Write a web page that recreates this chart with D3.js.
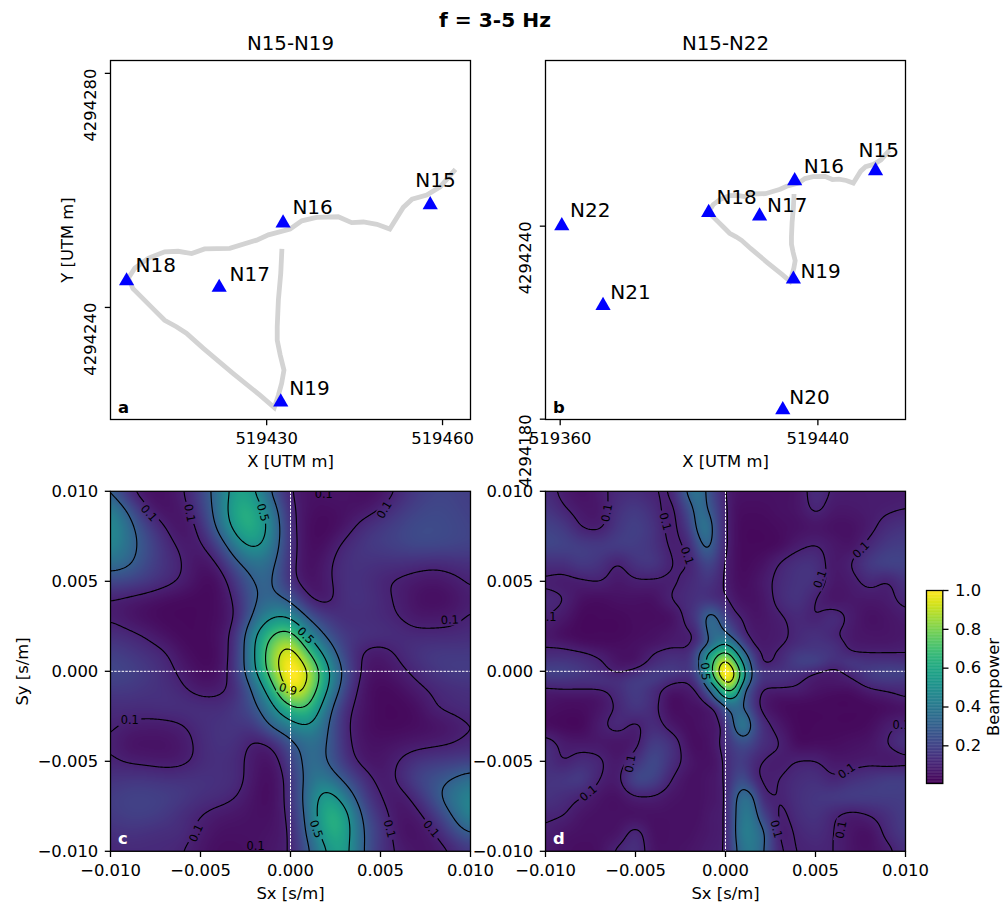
<!DOCTYPE html>
<html>
<head>
<meta charset="utf-8">
<script src="https://cdn.jsdelivr.net/npm/d3@7"></script>
<style>
body { margin: 0; background: #fff; }
svg { display: block; }
text { font-family: "DejaVu Sans", sans-serif; fill: #000; }
</style>
</head>
<body>
<div id="chart"></div>
<script>
var stations = ["N15", "N16", "N17", "N18", "N19", "N20", "N21", "N22"];
var stationX = [519457.9, 519432.8, 519421.9, 519406.1, 519432.4, 519429.1, 519373.3, 519360.5];
var stationY = [4294257.9, 4294254.8, 4294243.8, 4294244.9, 4294224.2, 4294183.6, 4294216, 4294240.8];

// grey cable line
var cableX = [519432.6, 519432.4, 519432.0, 519431.8, 519431.8, 519432.3, 519432.95, 519432.55, 519432.0, 519431.3, 519428.85, 519424.3, 519419.2, 519416.3, 519414.6, 519412.6, 519410.9, 519408.9, 519407.2, 519406.4, 519407.5, 519409.8, 519412.6, 519414.9, 519417.2, 519419.4, 519423.7, 519428.3, 519430.3, 519434, 519436, 519438.5, 519442.2, 519444.5, 519446.5, 519448.8, 519451, 519453.3, 519454.8, 519457.3, 519459.6, 519462.2];
var cableY = [4294250.0, 4294245.8, 4294241.3, 4294236.7, 4294234.4, 4294231.9, 4294229.3, 4294227.0, 4294225, 4294222.9, 4294225, 4294228.7, 4294233, 4294235.6, 4294236.7, 4294237.8, 4294239.5, 4294241.5, 4294243.2, 4294245, 4294246.7, 4294248.4, 4294249.5, 4294249.6, 4294249.2, 4294250, 4294250.1, 4294251.5, 4294252.4, 4294253.4, 4294254.8, 4294255.4, 4294255.5, 4294254.5, 4294254.6, 4294254.2, 4294253.4, 4294257.1, 4294258.5, 4294259.2, 4294260.6, 4294263.6];

var contourLevels = [0.1, 0.3, 0.5, 0.7, 0.9];
var sTicks = [-0.01, -0.005, 0, 0.005, 0.01];
var barTicks = [0.2, 0.4, 0.6, 0.8, 1.0];

// slowness axes of the two read-off grids (d is finer round the narrow peak)
var axisC = [-0.01, -0.009, -0.008, -0.007, -0.006, -0.005, -0.004, -0.003, -0.002, -0.001, 0, 0.001, 0.002, 0.003, 0.004, 0.005, 0.006, 0.007, 0.008, 0.009, 0.01];
var axisD = [-0.01, -0.009, -0.008, -0.007, -0.006, -0.005, -0.004, -0.003, -0.002, -0.0015, -0.001, -0.0005, 0, 0.0005, 0.001, 0.0015, 0.002, 0.003, 0.004, 0.005, 0.006, 0.007, 0.008, 0.009, 0.01];

// beampower, rows run from Sy=+0.010 down to Sy=-0.010
var powerC = [
[.30,.11,.05,.05,.09,.20,.37,.56,.50,.26,.10,.05,.06,.06,.04,.05,.11,.17,.20,.20,.18],
[.44,.27,.10,.05,.07,.17,.37,.60,.59,.37,.12,.05,.04,.05,.06,.10,.16,.20,.22,.21,.19],
[.49,.35,.20,.10,.05,.12,.33,.56,.61,.42,.13,.04,.03,.06,.13,.17,.20,.23,.23,.22,.20],
[.47,.35,.24,.14,.08,.08,.20,.42,.53,.39,.14,.04,.05,.12,.16,.18,.20,.22,.22,.21,.20],
[.36,.32,.22,.15,.10,.05,.10,.27,.37,.33,.13,.04,.08,.14,.15,.14,.14,.13,.12,.13,.14],
[.22,.20,.17,.13,.09,.04,.04,.17,.31,.31,.13,.05,.08,.14,.14,.11,.09,.07,.06,.08,.11],
[.095,.08,.06,.04,.03,.03,.04,.12,.29,.33,.27,.10,.07,.14,.15,.12,.09,.05,.04,.05,.09],
[.09,.06,.04,.03,.03,.03,.04,.10,.33,.49,.48,.27,.17,.13,.13,.12,.10,.07,.07,.08,.11],
[.14,.12,.09,.05,.03,.03,.05,.15,.48,.69,.76,.47,.27,.17,.15,.14,.13,.12,.12,.12,.13],
[.19,.17,.14,.11,.05,.03,.04,.16,.49,.80,.95,.70,.42,.20,.09,.07,.11,.15,.17,.17,.17],
[.22,.20,.17,.13,.08,.04,.05,.17,.47,.78,1.0,.88,.55,.26,.08,.05,.08,.12,.16,.18,.18],
[.17,.17,.15,.14,.11,.07,.08,.13,.33,.62,.96,.82,.51,.21,.06,.03,.04,.08,.11,.13,.14],
[.13,.13,.13,.14,.14,.14,.13,.17,.26,.45,.66,.68,.38,.14,.06,.03,.03,.04,.10,.12,.13],
[.11,.09,.08,.08,.095,.13,.15,.16,.17,.33,.43,.50,.32,.12,.05,.03,.03,.04,.05,.07,.10],
[.10,.05,.05,.05,.07,.12,.15,.14,.08,.11,.26,.36,.31,.13,.06,.05,.06,.07,.08,.095,.12],
[.11,.09,.08,.07,.08,.12,.14,.12,.07,.05,.19,.36,.30,.16,.07,.06,.10,.15,.17,.18,.19],
[.15,.16,.16,.15,.15,.15,.14,.13,.06,.04,.14,.36,.40,.26,.15,.07,.11,.20,.25,.30,.37],
[.18,.20,.20,.19,.17,.14,.13,.10,.05,.04,.14,.38,.57,.42,.20,.10,.06,.13,.25,.38,.45],
[.17,.19,.19,.17,.13,.10,.07,.06,.05,.05,.12,.36,.62,.57,.27,.14,.06,.07,.16,.30,.46],
[.14,.15,.14,.13,.13,.08,.05,.05,.05,.06,.10,.33,.59,.58,.30,.17,.06,.05,.09,.20,.30],
[.11,.12,.12,.12,.10,.06,.04,.04,.05,.07,.10,.27,.49,.56,.30,.15,.09,.06,.06,.10,.16]
];

var powerD = [
[.13,.08,.05,.08,.12,.13,.105,.11,.33,.38,.27,.17,.10,.06,.05,.05,.05,.05,.06,.13,.09,.08,.08,.08,.08],
[.16,.11,.07,.07,.14,.17,.13,.08,.24,.36,.30,.20,.11,.05,.04,.04,.04,.05,.06,.11,.07,.07,.08,.09,.10],
[.20,.17,.10,.09,.16,.19,.15,.08,.18,.34,.38,.22,.11,.05,.03,.03,.03,.04,.05,.06,.05,.05,.08,.13,.15],
[.21,.20,.18,.17,.18,.18,.15,.09,.12,.25,.33,.22,.11,.05,.03,.03,.03,.04,.08,.10,.07,.06,.12,.17,.18],
[.14,.14,.17,.15,.10,.15,.16,.10,.10,.16,.22,.17,.09,.05,.03,.04,.05,.10,.14,.14,.07,.10,.17,.20,.20],
[.09,.08,.09,.10,.07,.09,.09,.09,.12,.14,.16,.13,.09,.05,.04,.05,.07,.12,.15,.14,.07,.08,.12,.10,.15],
[.12,.10,.05,.04,.05,.05,.05,.10,.13,.15,.15,.13,.11,.07,.05,.05,.06,.12,.15,.10,.06,.07,.07,.08,.12],
[.10,.07,.03,.03,.03,.04,.04,.05,.13,.19,.33,.31,.19,.12,.09,.06,.06,.09,.12,.10,.13,.08,.05,.06,.08],
[.07,.04,.03,.03,.03,.04,.05,.07,.09,.13,.31,.35,.33,.22,.12,.08,.07,.08,.12,.14,.11,.07,.06,.06,.07],
[.09,.08,.05,.04,.04,.05,.06,.08,.09,.16,.28,.42,.50,.38,.21,.10,.07,.09,.13,.15,.14,.08,.07,.07,.08],
[.12,.12,.11,.08,.05,.05,.10,.13,.13,.27,.49,.62,.72,.55,.35,.18,.09,.11,.17,.17,.15,.105,.10,.10,.10],
[.16,.16,.14,.11,.06,.06,.12,.15,.15,.28,.53,.75,.92,.72,.45,.25,.09,.12,.19,.20,.14,.17,.15,.15,.14],
[.20,.20,.17,.13,.09,.12,.17,.18,.16,.26,.52,.83,1.0,.88,.55,.27,.16,.15,.15,.11,.08,.13,.18,.20,.20],
[.15,.15,.14,.15,.14,.18,.18,.12,.11,.20,.42,.70,.93,.85,.50,.26,.15,.14,.11,.07,.07,.09,.15,.17,.16],
[.09,.10,.10,.10,.13,.18,.13,.07,.08,.12,.28,.45,.72,.69,.33,.20,.10,.09,.09,.06,.05,.05,.09,.11,.12],
[.06,.05,.05,.06,.12,.17,.13,.04,.06,.08,.16,.33,.48,.49,.30,.17,.08,.05,.05,.04,.03,.03,.05,.07,.10],
[.05,.04,.04,.06,.11,.16,.12,.04,.05,.05,.07,.12,.29,.34,.30,.18,.08,.04,.03,.03,.03,.03,.03,.04,.05],
[.04,.03,.03,.08,.12,.09,.13,.07,.04,.05,.06,.07,.15,.31,.41,.27,.14,.07,.03,.03,.03,.03,.04,.08,.11],
[.13,.08,.07,.07,.06,.08,.18,.14,.05,.04,.05,.08,.14,.20,.24,.20,.14,.10,.04,.04,.04,.05,.06,.10,.15],
[.14,.10,.13,.11,.07,.14,.22,.14,.07,.05,.05,.06,.12,.17,.18,.13,.10,.08,.10,.10,.07,.07,.08,.07,.08],
[.15,.16,.17,.10,.08,.21,.20,.10,.05,.05,.06,.07,.11,.20,.24,.15,.09,.10,.13,.14,.11,.14,.16,.18,.18],
[.15,.13,.10,.06,.05,.09,.09,.06,.05,.05,.06,.07,.10,.27,.36,.32,.13,.10,.14,.16,.17,.18,.18,.18,.18],
[.11,.10,.06,.05,.05,.05,.05,.05,.05,.05,.07,.08,.10,.28,.40,.38,.22,.09,.13,.15,.11,.08,.10,.14,.18],
[.09,.06,.05,.05,.06,.12,.05,.05,.05,.06,.07,.08,.10,.28,.42,.40,.33,.09,.11,.13,.10,.06,.05,.12,.17],
[.07,.05,.04,.05,.11,.14,.06,.05,.06,.07,.08,.09,.10,.26,.38,.40,.32,.11,.10,.11,.10,.06,.05,.08,.14]
];

// inline contour labels: text, Sx, Sy, rotation
var labelsC = [
["0.1", -.00785, .0088, 48], ["0.1", -.00559, .0088, 80], ["0.5", -.00152, .00883, 75],
["0.1", .00519, .00898, -60], ["0.1", .00185, .00987, 0], ["0.1", .00885, .00287, -3],
["0.5", .00085, .002, 45], ["0.9", -.00013, -.00098, 15], ["0.1", -.00893, -.00272, 0],
["0.1", -.00526, -.00898, -65], ["0.5", .00144, -.00876, 70], ["0.1", .00552, -.00874, 75],
["0.1", .00783, -.00874, 50], ["0.1", -.00194, -.00972, 0]
];
var labelsD = [
["0.1", -.00661, .0088, -80], ["0.1", -.00333, .00833, 75], ["0.1", -.00211, .00643, 70],
["0.1", .00524, .00513, -70], ["0.1", .00752, .00676, -45], ["0.1", -.00989, .00302, 0],
["0.5", -.00111, 0, 85], ["0.1", -.00531, -.00513, -80], ["0.1", -.00763, -.00676, -40],
["0.1", .00283, -.00876, 75], ["0.1", .00672, -.00552, -35], ["0.1", .00641, -.0088, -80],
["0.1", .00978, -.003, 0]
];

var width = 1006;
var height = 909;
var tickFont = 16.4;
var tickLen = 5.7;
var spine = 1.3;

var svg = d3.select("#chart").append("svg")
    .attr("width", width)
    .attr("height", height);

var color = d3.scaleSequential(d3.interpolateViridis).domain([0.006, 1]);

// ticks and tick labels shared by all the panels
function styleAxis(g) {
    g.select(".domain").remove();
    g.selectAll("line").attr("stroke", "#000").attr("stroke-width", spine);
    g.selectAll("text").attr("font-size", tickFont).attr("fill", "#000").attr("font-family", "DejaVu Sans");
}

function drawFrame(g, w, h) {
    g.append("rect")
        .attr("width", w)
        .attr("height", h)
        .attr("fill", "none")
        .attr("stroke", "#000")
        .attr("stroke-width", spine);
}

//top row maps
function mapPanel(opt) {
    var g = svg.append("g").attr("transform", "translate(" + opt.left + "," + opt.top + ")");
    var x = d3.scaleLinear().domain(opt.xDomain).range([0, opt.w]);
    var y = d3.scaleLinear().domain(opt.yDomain).range([opt.h, 0]);

    g.append("g").attr("transform", "translate(0," + opt.h + ")")
        .call(d3.axisBottom(x).tickValues(opt.xTicks).tickFormat(d3.format("d")).tickSize(tickLen).tickPadding(7.3).offset(0))
        .call(styleAxis);
    // y tick labels are rotated and hang below their tick in the reference
    g.append("g")
        .call(d3.axisLeft(y).tickValues(opt.yTicks).tickFormat(d3.format("d")).tickSize(tickLen).offset(0))
        .call(styleAxis)
        .selectAll("text")
        .attr("x", 0).attr("dy", 0)
        .attr("text-anchor", "end")
        .attr("transform", "translate(-14.8,-4.8) rotate(-90)");

    var line = d3.line()
        .x(function(d) { return x(cableX[d]); })
        .y(function(d) { return y(cableY[d]); });
    g.append("path")
        .attr("d", line(d3.range(cableX.length)))
        .attr("fill", "none")
        .attr("stroke", "#d3d3d3")
        .attr("stroke-width", 4.8);

    g.selectAll(".station")
        .data(opt.idx)
        .enter()
        .append("path")
        .attr("d", d3.symbol(d3.symbolTriangle, 100))
        .attr("fill", "#0000ff")
        .attr("transform", function(i) {
            return "translate(" + x(stationX[i]) + "," + (y(stationY[i]) + 2.2) + ")";
        });

    g.selectAll(".name")
        .data(opt.idx)
        .enter()
        .append("text")
        .attr("font-size", 20)
        .attr("x", function(i, k) { return x(stationX[i]) + opt.nameDx[k]; })
        .attr("y", function(i, k) { return y(stationY[i]) + opt.nameDy[k]; })
        .text(function(i) { return stations[i]; });

    drawFrame(g, opt.w, opt.h);

    g.append("text").attr("x", 7.5).attr("y", opt.h - 7)
        .attr("font-size", 16.4).attr("font-weight", "bold").text(opt.letter);
    g.append("text").attr("x", opt.w / 2).attr("y", -11)
        .attr("font-size", 19.8).attr("text-anchor", "middle").text(opt.title);
    g.append("text").attr("x", opt.w / 2).attr("y", opt.h + 47.5)
        .attr("font-size", 16.4).attr("text-anchor", "middle").text("X [UTM m]");
}

// bicubic lookup in the read-off grid, the same idea as imshow(interpolation="bicubic")
function sampler(grid, axis) {
    var toIndex = d3.scaleLinear().domain(axis).range(d3.range(axis.length)).clamp(true);
    var last = axis.length - 1;
    function cr(a, b, c, d, t) {
        return b + 0.5 * t * (c - a + t * (2 * a - 5 * b + 4 * c - d + t * (3 * (b - c) + d - a)));
    }
    function at(r, c) {
        return grid[Math.max(0, Math.min(last, r))][Math.max(0, Math.min(last, c))];
    }
    return function(sx, sy) {
        var u = toIndex(sx);
        var v = toIndex(-sy);
        var c0 = Math.floor(u), r0 = Math.floor(v);
        var tu = u - c0, tv = v - r0;
        var rows = [-1, 0, 1, 2].map(function(k) {
            return cr(at(r0 + k, c0 - 1), at(r0 + k, c0), at(r0 + k, c0 + 1), at(r0 + k, c0 + 2), tu);
        });
        return Math.max(0, Math.min(1, cr(rows[0], rows[1], rows[2], rows[3], tv)));
    };
}

//bottom row beampower maps
function beamPanel(opt) {
    var w = 360, h = 360, pad = 2;
    var g = svg.append("g").attr("transform", "translate(" + opt.left + "," + opt.top + ")");
    var x = d3.scaleLinear().domain([-0.01, 0.01]).range([0, w]);
    var y = d3.scaleLinear().domain([-0.01, 0.01]).range([h, 0]);
    var look = sampler(opt.grid, opt.axis);

    // field is sampled a little past the frame so the contour outline falls outside the clip
    var nx = w + 2 * pad, ny = h + 2 * pad;
    var field = new Float64Array(nx * ny);
    for (var j = 0; j < ny; j++) {
        for (var i = 0; i < nx; i++) {
            field[j * nx + i] = look(x.invert(i + 0.5 - pad), y.invert(j + 0.5 - pad));
        }
    }

    // soften the hand read grid, then give the peak back its height
    d3.blur2({data: field, width: nx, height: ny}, opt.blur);
    var top = d3.max(field);
    var k = (1 - top) / (top * top);
    for (var q = 0; q < field.length; q++) {
        field[q] = field[q] * (1 + k * field[q]);
    }

    var canvas = document.createElement("canvas");
    canvas.width = w;
    canvas.height = h;
    var ctx = canvas.getContext("2d");
    var img = ctx.createImageData(w, h);
    for (var b = 0; b < h; b++) {
        for (var a = 0; a < w; a++) {
            var c = d3.rgb(color(field[(b + pad) * nx + a + pad]));
            var p = (b * w + a) * 4;
            img.data[p] = c.r;
            img.data[p + 1] = c.g;
            img.data[p + 2] = c.b;
            img.data[p + 3] = 255;
        }
    }
    ctx.putImageData(img, 0, 0);

    var id = "panel" + opt.letter;
    var defs = g.append("defs");
    defs.append("clipPath").attr("id", "clip" + id).append("rect").attr("width", w).attr("height", h);
    var mask = defs.append("mask").attr("id", "mask" + id)
        .attr("maskUnits", "userSpaceOnUse")
        .attr("x", -5).attr("y", -5).attr("width", w + 10).attr("height", h + 10);
    mask.append("rect").attr("x", -5).attr("y", -5).attr("width", w + 10).attr("height", h + 10).attr("fill", "#fff");
    mask.selectAll("rect.gap")
        .data(opt.labels)
        .enter()
        .append("rect")
        .attr("class", "gap")
        .attr("x", -11.5).attr("y", -6).attr("width", 23).attr("height", 12)
        .attr("fill", "#000")
        .attr("transform", function(d) {
            return "translate(" + x(d[1]) + "," + y(d[2]) + ") rotate(" + d[3] + ")";
        });

    var plot = g.append("g").attr("clip-path", "url(#clip" + id + ")");
    plot.append("image")
        .attr("width", w)
        .attr("height", h)
        .attr("href", canvas.toDataURL());

    var contours = d3.contours().size([nx, ny]).thresholds(contourLevels)(field);
    plot.append("g").attr("mask", "url(#mask" + id + ")")
        .append("g").attr("transform", "translate(" + (-pad) + "," + (-pad) + ")")
        .selectAll("path")
        .data(contours)
        .enter()
        .append("path")
        .attr("d", d3.geoPath())
        .attr("fill", "none")
        .attr("stroke", "#000")
        .attr("stroke-width", 1.15);

    plot.selectAll("text.clabel")
        .data(opt.labels)
        .enter()
        .append("text")
        .attr("class", "clabel")
        .attr("font-size", 11.4)
        .attr("text-anchor", "middle")
        .attr("dy", "0.36em")
        .attr("transform", function(d) {
            return "translate(" + x(d[1]) + "," + y(d[2]) + ") rotate(" + d[3] + ")";
        })
        .text(function(d) { return d[0]; });

    // zero slowness cross hair
    plot.append("line").attr("x1", x(0)).attr("x2", x(0)).attr("y1", 0).attr("y2", h)
        .attr("stroke", "#fff").attr("stroke-width", 1).attr("stroke-dasharray", "2.5 1.2");
    plot.append("line").attr("x1", 0).attr("x2", w).attr("y1", y(0)).attr("y2", y(0))
        .attr("stroke", "#fff").attr("stroke-width", 1).attr("stroke-dasharray", "2.5 1.2");

    g.append("g").attr("transform", "translate(0," + h + ")")
        .call(d3.axisBottom(x).tickValues(sTicks).tickFormat(d3.format(".3f")).tickSize(tickLen).tickPadding(7.3).offset(0))
        .call(styleAxis);
    g.append("g")
        .call(d3.axisLeft(y).tickValues(sTicks).tickFormat(d3.format(".3f")).tickSize(tickLen).tickPadding(6.5).offset(0))
        .call(styleAxis);

    drawFrame(g, w, h);

    g.append("text").attr("x", 7.5).attr("y", h - 7)
        .attr("font-size", 16.4).attr("font-weight", "bold").style("fill", "#fff").text(opt.letter);
    g.append("text").attr("x", w / 2).attr("y", h + 47.5)
        .attr("font-size", 16.4).attr("text-anchor", "middle").text("Sx [s/m]");
}

mapPanel({
    left: 110.5, top: 60.5, w: 360, h: 359,
    xDomain: [519403.36, 519464.77], yDomain: [4294220.85, 4294282.2],
    xTicks: [519430, 519460], yTicks: [4294240, 4294280],
    idx: [0, 1, 2, 3, 4],
    nameDx: [-15, 9.3, 10.4, 9, 8.6], nameDy: [-16, -6.4, -4.3, -7, -5.3],
    letter: "a", title: "N15-N19"
});
mapPanel({
    left: 545.5, top: 60.5, w: 360, h: 359,
    xDomain: [519355.44, 519467.2], yDomain: [4294179.9, 4294291.5],
    xTicks: [519360, 519440], yTicks: [4294180, 4294240],
    idx: [0, 1, 2, 3, 4, 5, 6, 7],
    nameDx: [-17, 9, 7.4, 7.7, 7, 6.6, 7.3, 8.3], nameDy: [-12, -6, -1.6, -6, 1, -3.3, -4.6, -6.6],
    letter: "b", title: "N15-N22"
});
beamPanel({ left: 110.5, top: 491.3, grid: powerC, axis: axisC, labels: labelsC, letter: "c", blur: 7 });
beamPanel({ left: 545.5, top: 491.3, grid: powerD, axis: axisD, labels: labelsD, letter: "d", blur: 3.5 });

svg.append("text").attr("x", 495).attr("y", 27)
    .attr("font-size", 20.2).attr("font-weight", "bold").attr("text-anchor", "middle").text("f = 3-5 Hz");
svg.append("text").attr("transform", "translate(73,240) rotate(-90)")
    .attr("font-size", 16.4).attr("text-anchor", "middle").text("Y [UTM m]");
svg.append("text").attr("transform", "translate(28,671.5) rotate(-90)")
    .attr("font-size", 16.4).attr("text-anchor", "middle").text("Sy [s/m]");

// colorbar
var barLeft = 926.5, barTop = 590.5, barW = 16.3, barH = 193;
var barScale = d3.scaleLinear().domain([0.006, 1]).range([barH, 0]);
var bar = svg.append("g").attr("transform", "translate(" + barLeft + "," + barTop + ")");
bar.selectAll("rect.step")
    .data(d3.range(0, 256))
    .enter()
    .append("rect")
    .attr("class", "step")
    .attr("width", barW)
    .attr("y", function(d) { return barScale(0.006 + (d + 1) / 256 * 0.994); })
    .attr("height", barH / 256 + 0.4)
    .attr("fill", function(d) { return color(0.006 + (d + 0.5) / 256 * 0.994); });
bar.append("g").attr("transform", "translate(" + barW + ",0)")
    .call(d3.axisRight(barScale).tickValues(barTicks).tickFormat(d3.format(".1f")).tickSize(tickLen).tickPadding(6.5).offset(0))
    .call(styleAxis);
drawFrame(bar, barW, barH);
svg.append("text").attr("transform", "translate(999,687) rotate(-90)")
    .attr("font-size", 16.4).attr("text-anchor", "middle").text("Beampower");
</script>
</body>
</html>
